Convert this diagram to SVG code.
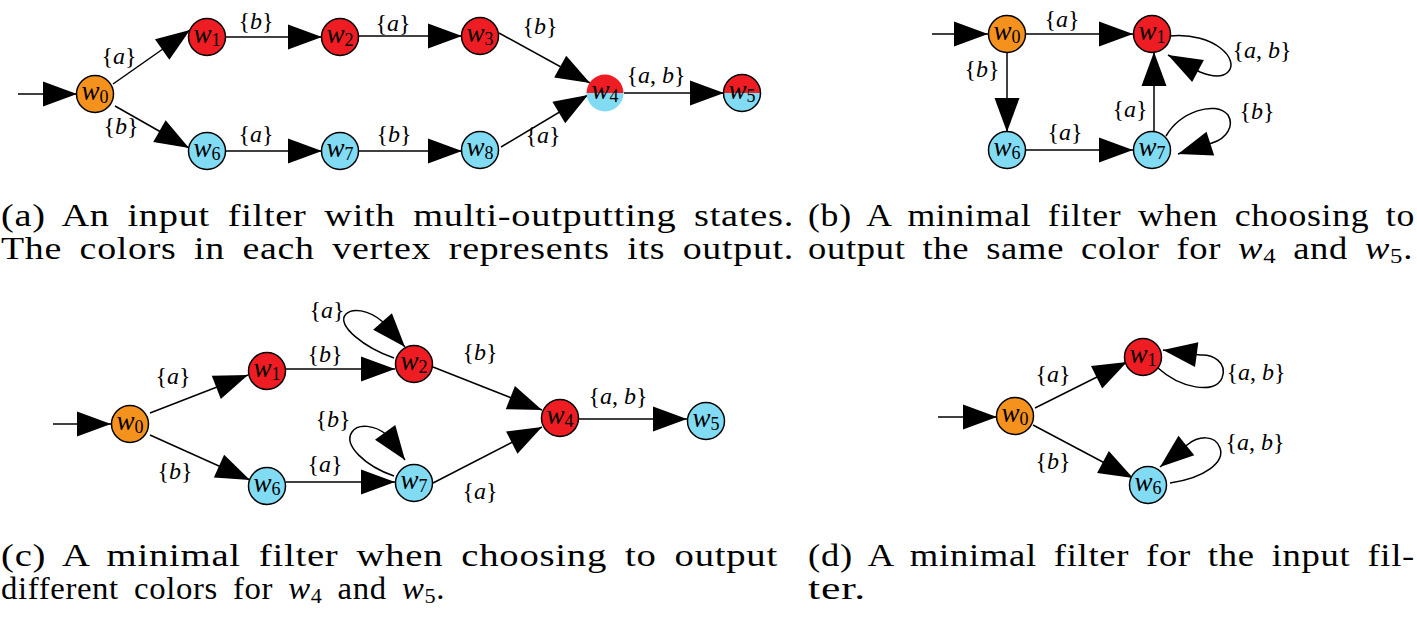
<svg xmlns="http://www.w3.org/2000/svg" width="1417" height="620" viewBox="0 0 1417 620" font-family="'Liberation Serif', 'Times New Roman', Times, serif">
<style>
text{font-family:'Liberation Serif','Times New Roman',Times,serif;fill:#000}
.nl{font-size:27px;text-anchor:middle}
.el{font-size:24px;text-anchor:middle}
.it{font-style:italic}
.sub{font-size:18px}
.cap{font-size:31px;letter-spacing:0.6px;word-spacing:6px}
.capsub{font-size:21px}
.node circle{stroke:#000;stroke-width:1.5}
.red{fill:#EE1D24}
.cyan{fill:#80DBF3}
.orange{fill:#F5921E}
.conn line,.conn path{stroke:#000;stroke-width:1.5;fill:none;marker-end:url(#ah)}
</style>
<defs>
<marker id="ah" markerUnits="userSpaceOnUse" markerWidth="36" markerHeight="28" viewBox="0 0 36 28" refX="35" refY="14" orient="auto"><path d="M1,1.5 L35,14 L1,26.5 Z" fill="#000"/></marker>
</defs>
<rect width="1417" height="620" fill="#fff"/>

<!-- Connectors -->
<g id="connectors" class="conn">
  <!-- (a) -->
  <line x1="18" y1="94" x2="77" y2="94"/>
  <line x1="113" y1="84" x2="190" y2="30"/>
  <line x1="115" y1="106" x2="189" y2="148"/>
  <line x1="225" y1="37" x2="322" y2="37"/>
  <line x1="358" y1="36" x2="462" y2="36"/>
  <line x1="499" y1="33" x2="590" y2="83"/>
  <line x1="225" y1="151" x2="322" y2="151"/>
  <line x1="358" y1="151" x2="462" y2="151"/>
  <line x1="501" y1="147" x2="588" y2="95"/>
  <line x1="624" y1="93" x2="724" y2="93"/>
  <!-- (b) -->
  <line x1="932" y1="34" x2="988" y2="34"/>
  <line x1="1026" y1="34" x2="1133" y2="34"/>
  <line x1="1007" y1="52" x2="1007" y2="132"/>
  <line x1="1026" y1="150" x2="1133" y2="150"/>
  <line x1="1154" y1="132" x2="1154" y2="52"/>
  <path d="M1170,36 C1215,32 1240,60 1228,72 C1222,78 1210,76 1200,72 L1168,55"/>
  <path d="M1166,136 C1180,112 1215,100 1228,115 C1234,125 1228,138 1212,143 L1178,154"/>
  <!-- (c) -->
  <line x1="53" y1="424" x2="111" y2="424"/>
  <line x1="150" y1="413" x2="248" y2="375"/>
  <line x1="150" y1="435" x2="250" y2="480"/>
  <line x1="286" y1="369" x2="395" y2="369"/>
  <line x1="286" y1="482" x2="395" y2="482"/>
  <line x1="433" y1="367" x2="542" y2="410"/>
  <line x1="433" y1="483" x2="542" y2="427"/>
  <line x1="579" y1="419" x2="687" y2="419"/>
  <path d="M394,358 C365,348 335,325 346,314 C352,308 368,309 383,322 L405,347"/>
  <path d="M394,476 C365,466 343,445 352,432 C358,423 375,425 387,435 L405,460"/>
  <!-- (d) -->
  <line x1="938" y1="417" x2="997" y2="417"/>
  <line x1="1035" y1="408" x2="1127" y2="362"/>
  <line x1="1033" y1="425" x2="1133" y2="478"/>
  <path d="M1158,368 C1180,388 1215,395 1222,378 C1228,362 1212,354 1200,355 L1163,350"/>
  <path d="M1170,483 C1205,478 1225,462 1220,448 C1215,434 1198,436 1187,445 L1160,467"/>
</g>

<g id="edge-labels">
  <!-- (a) -->
  <text class="el" x="119" y="64">{<tspan class="it">a</tspan>}</text>
  <text class="el" x="121" y="134">{<tspan class="it">b</tspan>}</text>
  <text class="el" x="256" y="29">{<tspan class="it">b</tspan>}</text>
  <text class="el" x="256" y="142">{<tspan class="it">a</tspan>}</text>
  <text class="el" x="393" y="31">{<tspan class="it">a</tspan>}</text>
  <text class="el" x="394" y="142">{<tspan class="it">b</tspan>}</text>
  <text class="el" x="540" y="34">{<tspan class="it">b</tspan>}</text>
  <text class="el" x="543" y="143">{<tspan class="it">a</tspan>}</text>
  <text class="el" x="656" y="83">{<tspan class="it">a</tspan>, <tspan class="it">b</tspan>}</text>
  <!-- (b) -->
  <text class="el" x="1062" y="27">{<tspan class="it">a</tspan>}</text>
  <text class="el" x="982" y="77">{<tspan class="it">b</tspan>}</text>
  <text class="el" x="1065" y="140">{<tspan class="it">a</tspan>}</text>
  <text class="el" x="1130" y="117">{<tspan class="it">a</tspan>}</text>
  <text class="el" x="1262" y="58">{<tspan class="it">a</tspan>, <tspan class="it">b</tspan>}</text>
  <text class="el" x="1257" y="119">{<tspan class="it">b</tspan>}</text>
  <!-- (c) -->
  <text class="el" x="173" y="384">{<tspan class="it">a</tspan>}</text>
  <text class="el" x="175" y="479">{<tspan class="it">b</tspan>}</text>
  <text class="el" x="325" y="362">{<tspan class="it">b</tspan>}</text>
  <text class="el" x="325" y="472">{<tspan class="it">a</tspan>}</text>
  <text class="el" x="327" y="318">{<tspan class="it">a</tspan>}</text>
  <text class="el" x="333" y="427">{<tspan class="it">b</tspan>}</text>
  <text class="el" x="480" y="360">{<tspan class="it">b</tspan>}</text>
  <text class="el" x="480" y="499">{<tspan class="it">a</tspan>}</text>
  <text class="el" x="618" y="404">{<tspan class="it">a</tspan>, <tspan class="it">b</tspan>}</text>
  <!-- (d) -->
  <text class="el" x="1053" y="382">{<tspan class="it">a</tspan>}</text>
  <text class="el" x="1053" y="469">{<tspan class="it">b</tspan>}</text>
  <text class="el" x="1256" y="380">{<tspan class="it">a</tspan>, <tspan class="it">b</tspan>}</text>
  <text class="el" x="1255" y="450">{<tspan class="it">a</tspan>, <tspan class="it">b</tspan>}</text>
</g>

<!-- Panel (a) nodes -->
<g id="a-w0" class="node"><circle class="orange" cx="95" cy="94" r="18.5"/><text class="nl" x="95" y="100"><tspan class="it">w</tspan><tspan class="sub" dy="3">0</tspan></text></g>
<g id="a-w1" class="node"><circle class="red" cx="207" cy="37" r="18.5"/><text class="nl" x="207" y="43"><tspan class="it">w</tspan><tspan class="sub" dy="3">1</tspan></text></g>
<g id="a-w2" class="node"><circle class="red" cx="340" cy="37" r="18.5"/><text class="nl" x="340" y="43"><tspan class="it">w</tspan><tspan class="sub" dy="3">2</tspan></text></g>
<g id="a-w3" class="node"><circle class="red" cx="480" cy="36" r="18.5"/><text class="nl" x="480" y="42"><tspan class="it">w</tspan><tspan class="sub" dy="3">3</tspan></text></g>
<g id="a-w4" class="node"><path class="red" d="M586.5,93 A18.5,18.5 0 0 1 623.5,93 Z"/><path class="cyan" d="M586.5,93 A18.5,18.5 0 0 0 623.5,93 Z"/><text class="nl" x="605" y="99"><tspan class="it">w</tspan><tspan class="sub" dy="3">4</tspan></text></g>
<g id="a-w5" class="node"><path class="red" d="M723.5,93 A18.5,18.5 0 0 1 760.5,93 Z"/><path class="cyan" d="M723.5,93 A18.5,18.5 0 0 0 760.5,93 Z"/><circle cx="742" cy="93" r="18.5" fill="none"/><text class="nl" x="742" y="99"><tspan class="it">w</tspan><tspan class="sub" dy="3">5</tspan></text></g>
<g id="a-w6" class="node"><circle class="cyan" cx="207" cy="151" r="18.5"/><text class="nl" x="207" y="157"><tspan class="it">w</tspan><tspan class="sub" dy="3">6</tspan></text></g>
<g id="a-w7" class="node"><circle class="cyan" cx="340" cy="151" r="18.5"/><text class="nl" x="340" y="157"><tspan class="it">w</tspan><tspan class="sub" dy="3">7</tspan></text></g>
<g id="a-w8" class="node"><circle class="cyan" cx="480" cy="150" r="18.5"/><text class="nl" x="480" y="156"><tspan class="it">w</tspan><tspan class="sub" dy="3">8</tspan></text></g>

<!-- Panel (b) nodes -->
<g id="b-w0" class="node"><circle class="orange" cx="1007" cy="34" r="18.5"/><text class="nl" x="1007" y="40"><tspan class="it">w</tspan><tspan class="sub" dy="3">0</tspan></text></g>
<g id="b-w1" class="node"><circle class="red" cx="1152" cy="34" r="18.5"/><text class="nl" x="1152" y="40"><tspan class="it">w</tspan><tspan class="sub" dy="3">1</tspan></text></g>
<g id="b-w6" class="node"><circle class="cyan" cx="1007" cy="150" r="18.5"/><text class="nl" x="1007" y="156"><tspan class="it">w</tspan><tspan class="sub" dy="3">6</tspan></text></g>
<g id="b-w7" class="node"><circle class="cyan" cx="1152" cy="150" r="18.5"/><text class="nl" x="1152" y="156"><tspan class="it">w</tspan><tspan class="sub" dy="3">7</tspan></text></g>

<!-- Panel (c) nodes -->
<g id="c-w0" class="node"><circle class="orange" cx="130" cy="424" r="18.5"/><text class="nl" x="130" y="430"><tspan class="it">w</tspan><tspan class="sub" dy="3">0</tspan></text></g>
<g id="c-w1" class="node"><circle class="red" cx="267" cy="371" r="18.5"/><text class="nl" x="267" y="377"><tspan class="it">w</tspan><tspan class="sub" dy="3">1</tspan></text></g>
<g id="c-w2" class="node"><circle class="red" cx="414" cy="364" r="18.5"/><text class="nl" x="414" y="370"><tspan class="it">w</tspan><tspan class="sub" dy="3">2</tspan></text></g>
<g id="c-w6" class="node"><circle class="cyan" cx="267" cy="486" r="18.5"/><text class="nl" x="267" y="492"><tspan class="it">w</tspan><tspan class="sub" dy="3">6</tspan></text></g>
<g id="c-w7" class="node"><circle class="cyan" cx="414" cy="483" r="18.5"/><text class="nl" x="414" y="489"><tspan class="it">w</tspan><tspan class="sub" dy="3">7</tspan></text></g>
<g id="c-w4" class="node"><circle class="red" cx="560" cy="418" r="18.5"/><text class="nl" x="560" y="424"><tspan class="it">w</tspan><tspan class="sub" dy="3">4</tspan></text></g>
<g id="c-w5" class="node"><circle class="cyan" cx="706" cy="421" r="18.5"/><text class="nl" x="706" y="427"><tspan class="it">w</tspan><tspan class="sub" dy="3">5</tspan></text></g>

<!-- Panel (d) nodes -->
<g id="d-w0" class="node"><circle class="orange" cx="1015" cy="416" r="18.5"/><text class="nl" x="1015" y="422"><tspan class="it">w</tspan><tspan class="sub" dy="3">0</tspan></text></g>
<g id="d-w1" class="node"><circle class="red" cx="1143" cy="357" r="18.5"/><text class="nl" x="1143" y="363"><tspan class="it">w</tspan><tspan class="sub" dy="3">1</tspan></text></g>
<g id="d-w6" class="node"><circle class="cyan" cx="1148" cy="485" r="18.5"/><text class="nl" x="1148" y="491"><tspan class="it">w</tspan><tspan class="sub" dy="3">6</tspan></text></g>

<!-- Captions -->
<g id="captions">
  <text class="cap" x="1" y="226" textLength="793" lengthAdjust="spacingAndGlyphs">(a) An input filter with multi-outputting states.</text>
  <text class="cap" x="1" y="259" textLength="793" lengthAdjust="spacingAndGlyphs">The colors in each vertex represents its output.</text>
  <text class="cap" x="808" y="226" textLength="607" lengthAdjust="spacingAndGlyphs">(b) A minimal filter when choosing to</text>
  <text class="cap" x="808" y="259" textLength="605" lengthAdjust="spacingAndGlyphs">output the same color for <tspan class="it">w</tspan><tspan class="capsub" dy="4">4</tspan><tspan dy="-4"> and </tspan><tspan class="it">w</tspan><tspan class="capsub" dy="4">5</tspan><tspan dy="-4">.</tspan></text>
  <text class="cap" x="1" y="566" textLength="777" lengthAdjust="spacingAndGlyphs">(c) A minimal filter when choosing to output</text>
  <text class="cap" x="1" y="599" textLength="444" lengthAdjust="spacingAndGlyphs">different colors for <tspan class="it">w</tspan><tspan class="capsub" dy="4">4</tspan><tspan dy="-4"> and </tspan><tspan class="it">w</tspan><tspan class="capsub" dy="4">5</tspan><tspan dy="-4">.</tspan></text>
  <text class="cap" x="808" y="566" textLength="607" lengthAdjust="spacingAndGlyphs">(d) A minimal filter for the input fil-</text>
  <text class="cap" x="808" y="599" textLength="58" lengthAdjust="spacingAndGlyphs">ter.</text>
</g>
</svg>
